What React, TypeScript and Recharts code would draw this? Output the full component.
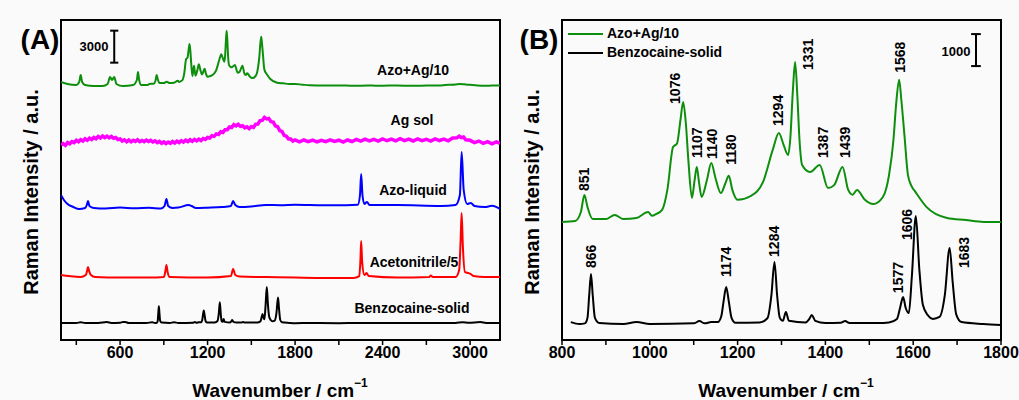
import React from "react";
import { ComposedChart, Line, XAxis, YAxis, ReferenceArea, ReferenceLine, ReferenceDot } from "recharts";

type Pt = [number, number];

// spectra, counts above each trace's own baseline
const azoAg: Pt[] = [
  [195, 190], [240, 0], [300, -90], [320, 190], [330, 840], [340, 190], [360, -90], [420, -190], [480, -190],
  [515, 0], [531, 650], [545, 375], [560, 650], [575, 0], [620, -190], [690, -90], [715, 375], [723, 1125],
  [731, 375], [745, -90], [790, -90], [800, 0], [830, 30], [843, 310], [851, 840], [858, 470], [870, 90],
  [900, 90], [920, 220], [940, 90], [970, 125], [996, 310], [1005, 190], [1015, 250], [1028, 375], [1040, 1000],
  [1053, 2340], [1062, 2450], [1070, 3200], [1076, 3750], [1082, 3100], [1088, 1900], [1096, 750], [1102, 1300],
  [1107, 1720], [1112, 1250], [1118, 780], [1130, 1300], [1140, 1840], [1150, 1350], [1162, 900], [1172, 1200],
  [1180, 1440], [1188, 1000], [1200, 690], [1230, 810], [1258, 1250], [1280, 2250], [1294, 2780], [1305, 2400],
  [1315, 2090], [1320, 2600], [1326, 4125], [1331, 5000], [1336, 3970], [1341, 2560], [1347, 1780], [1365, 1560],
  [1387, 1780], [1406, 1060], [1420, 1150], [1439, 1720], [1452, 1000], [1462, 850], [1472, 1000], [1490, 690],
  [1509, 560], [1531, 780], [1545, 1470], [1555, 2560], [1561, 3660], [1568, 4440], [1573, 3810], [1580, 2720],
  [1588, 1470], [1596, 1125], [1605, 940], [1630, 470], [1677, 125], [1720, 60], [1760, 0], [1800, 0],
  [1850, -60], [1900, -120], [2000, -150], [2100, -130], [2200, -170], [2300, -150], [2400, -160], [2500, -140],
  [2600, -170], [2700, -150], [2800, -130], [2850, -80], [2900, -40], [2930, 0], [2960, -30], [3000, -80],
  [3050, -140], [3100, -170], [3150, -150], [3205, -140],
];

const agSol: Pt[] = [
  [195, -190], [210, -60], [225, -220], [240, 40], [255, -80], [270, 130], [285, 40], [300, 250], [315, 110],
  [330, 300], [345, 180], [360, 390], [375, 260], [390, 450], [405, 330], [420, 520], [435, 400], [450, 610],
  [465, 470], [480, 650], [495, 500], [510, 640], [525, 480], [540, 620], [555, 450], [570, 510], [585, 330],
  [600, 380], [615, 180], [630, 300], [645, 120], [660, 280], [675, 110], [690, 260], [705, 150], [720, 300],
  [735, 120], [750, 240], [765, 130], [780, 280], [795, 150], [810, 250], [825, 90], [840, 200], [855, 40],
  [870, 150], [885, -30], [900, 100], [915, -60], [930, 90], [945, -40], [960, 140], [975, 0], [990, 170],
  [1005, 40], [1020, 220], [1035, 80], [1050, 260], [1065, 130], [1080, 300], [1095, 160], [1110, 340],
  [1125, 200], [1140, 360], [1155, 230], [1170, 420], [1185, 330], [1200, 520], [1215, 470], [1230, 680],
  [1245, 620], [1260, 850], [1275, 800], [1290, 1050], [1305, 990], [1320, 1250], [1335, 1250], [1350, 1500],
  [1365, 1450], [1380, 1720], [1395, 1600], [1410, 1750], [1425, 1560], [1440, 1620], [1455, 1420], [1470, 1520],
  [1485, 1340], [1500, 1540], [1515, 1470], [1530, 1760], [1545, 1780], [1560, 2100], [1575, 2120], [1590, 2400],
  [1605, 2260], [1620, 2300], [1635, 2000], [1650, 1960], [1665, 1600], [1680, 1520], [1695, 1150], [1710, 1080],
  [1725, 720], [1740, 640], [1755, 380], [1770, 380], [1785, 180], [1800, 280], [1830, 110], [1860, 280],
  [1890, 120], [1920, 270], [1950, 100], [1980, 250], [2010, 130], [2040, 300], [2070, 150], [2100, 260],
  [2130, 90], [2160, 280], [2190, 140], [2220, 330], [2250, 170], [2280, 360], [2310, 200], [2340, 340],
  [2370, 180], [2400, 380], [2430, 210], [2460, 360], [2490, 200], [2520, 400], [2550, 230], [2580, 370],
  [2610, 190], [2640, 390], [2670, 220], [2700, 350], [2730, 170], [2760, 380], [2790, 230], [2820, 360],
  [2850, 200], [2880, 460], [2910, 480], [2925, 640], [2940, 500], [2955, 560], [2970, 300], [3000, 250],
  [3030, 40], [3060, 180], [3090, -40], [3120, 120], [3150, -80], [3180, 100], [3205, -30],
];

const azoLiquid: Pt[] = [
  [195, 1220], [215, 750], [240, 375], [280, 90], [320, -90], [360, 0], [372, 280], [380, 650], [390, 190],
  [420, 0], [500, -50], [600, 40], [700, -30], [800, 20], [880, -50], [905, 190], [918, 840], [930, 190],
  [960, 0], [1000, 40], [1070, 280], [1090, 190], [1120, 0], [1200, 30], [1300, 90], [1360, 190], [1375, 650],
  [1390, 280], [1420, 90], [1500, 140], [1600, 280], [1700, 260], [1800, 300], [2000, 250], [2150, 260],
  [2230, 300], [2245, 1220], [2253, 3190], [2262, 1220], [2275, 375], [2293, 560], [2310, 280], [2500, 280],
  [2800, 190], [2900, 280], [2930, 1220], [2942, 5250], [2956, 1690], [2980, 375], [3005, 470], [3030, 190],
  [3100, 100], [3150, 200], [3205, -90],
];

const acetonitrile: Pt[] = [
  [195, 190], [250, 90], [330, 0], [365, 190], [375, 660], [380, 940], [388, 560], [400, 190], [430, 0],
  [600, -50], [800, -50], [900, 0], [912, 660], [918, 1125], [926, 470], [940, 0], [1200, -50], [1360, 90],
  [1375, 750], [1390, 190], [1420, 50], [1600, 0], [1800, -50], [2000, -90], [2200, -90], [2240, 90],
  [2248, 1600], [2253, 3375], [2260, 1400], [2275, 190], [2290, 375], [2305, 90], [2500, -50], [2720, 0],
  [2730, 140], [2745, 0], [2900, 0], [2925, 660], [2935, 3470], [2942, 6000], [2950, 3000], [2965, 470],
  [2990, 375], [3005, 280], [3025, 90], [3100, 0], [3205, 0],
];

const benzocaine: Pt[] = [
  [195, 0], [300, 0], [330, 60], [360, 0], [450, 0], [510, 80], [540, 0], [600, 20], [620, 90], [635, 90],
  [660, 0], [780, 0], [820, 60], [840, 0], [852, 20], [858, 190], [862, 900], [866, 1560], [870, 900],
  [875, 190], [885, 30], [940, 0], [970, 60], [1000, 0], [1100, 20], [1113, 90], [1125, 20], [1140, 60],
  [1155, 60], [1163, 250], [1168, 700], [1174, 1156], [1180, 700], [1186, 200], [1195, 40], [1250, 50],
  [1268, 180], [1277, 900], [1284, 1940], [1290, 900], [1296, 200], [1303, 100], [1310, 375], [1317, 100],
  [1355, 50], [1363, 150], [1369, 280], [1377, 100], [1400, 30], [1435, 40], [1445, 90], [1455, 30],
  [1520, 30], [1545, 50], [1563, 160], [1570, 500], [1577, 840], [1583, 500], [1590, 340], [1597, 1500],
  [1606, 3375], [1614, 1700], [1622, 600], [1633, 280], [1645, 160], [1660, 220], [1672, 900], [1683, 2375],
  [1690, 1300], [1698, 300], [1710, 60], [1760, 0], [1800, -30], [1900, 0], [2100, -20], [2400, 0],
  [2700, -10], [2900, 0], [2950, 60], [2990, 20], [3070, 80], [3110, 0], [3205, 0],
];

const ticksA = [300, 600, 900, 1200, 1500, 1800, 2100, 2400, 2700, 3000];
const ticksB = [800, 900, 1000, 1100, 1200, 1300, 1400, 1500, 1600, 1700, 1800];
const peaksAzo = [851, 1076, 1107, 1140, 1180, 1294, 1331, 1387, 1439, 1568];
const peaksBenz = [866, 1174, 1284, 1577, 1606, 1683];

const FONT = '"Liberation Sans", Arial, sans-serif';
const GREEN = "#0d8f0d";

// stacking offsets (counts) in each panel
const stackA = [
  { name: "Azo+Ag/10", data: azoAg, color: GREEN, offset: 24000, width: 2, curve: "monotone" },
  { name: "Ag sol", data: agSol, color: "#ff00ff", offset: 18470, width: 3.5, curve: "linear" },
  { name: "Azo-liquid", data: azoLiquid, color: "#0000ff", offset: 12375, width: 2, curve: "monotone" },
  { name: "Acetonitrile/5", data: acetonitrile, color: "#ff0000", offset: 5900, width: 2, curve: "monotone" },
  { name: "Benzocaine-solid", data: benzocaine, color: "#000000", offset: 1600, width: 2, curve: "monotone" },
];
const OFF_B_AZO = 3690;
const OFF_B_BENZ = 500;

// label nudges: dx (px), gap above apex (px)
const nudge: Record<number, [number, number]> = {
  851: [0, 4], 1076: [-8, -2], 1107: [0, 9], 1140: [1, 4], 1180: [2, 11], 1294: [-1, 7], 1331: [13, -8],
  1387: [3, 7], 1439: [2, 9], 1568: [1, 7], 866: [0, 6], 1174: [0, 10], 1284: [0, 5], 1577: [-5, 4],
  1606: [-9, -24], 1683: [14, -20],
};

const shift = (d: Pt[], off: number, lo = -Infinity, hi = Infinity) =>
  d.filter(([x]) => x >= lo && x <= hi).map(([x, v]) => ({ x, y: v + off }));
const at = (d: Pt[], x: number) => (d.find((p) => p[0] === x) || [x, 0])[1];

const tickStyle = { fill: "#000", fontSize: 16, fontWeight: "bold", fontFamily: FONT };

function Txt({ x, y, children, size = 14, rotate = false }: any) {
  return (
    <div
      style={{
        position: "absolute", left: x, top: y, fontSize: size, fontWeight: "bold", whiteSpace: "nowrap",
        lineHeight: 1, transform: `translate(-50%,-50%)${rotate ? " rotate(-90deg)" : ""}`,
      }}
    >
      {children}
    </div>
  );
}

const peakShape = (label: number) => (p: any) => {
  const [dx, gap] = nudge[label] || [0, 5];
  const x = p.cx + dx;
  const y = p.cy - gap;
  return (
    <text x={x} y={y} transform={`rotate(-90 ${x} ${y})`} fontSize={14} fontWeight="bold" fontFamily={FONT}
      dominantBaseline="central" textAnchor="start" fill="#000">
      {label}
    </text>
  );
};

function PanelA() {
  return (
    <ComposedChart width={520} height={400} margin={{ top: 20, right: 20, bottom: 30, left: 61 }}>
      <XAxis type="number" dataKey="x" domain={[195, 3205]} ticks={ticksA} allowDataOverflow
        tickFormatter={(v: number) => (v % 600 === 0 ? String(v) : "")} tick={tickStyle}
        axisLine={{ stroke: "#000", strokeWidth: 2 }} tickLine={{ stroke: "#000", strokeWidth: 1.5 }}
        tickSize={5} height={30} />
      <YAxis type="number" domain={[0, 30000]} hide allowDataOverflow />
      <ReferenceArea x1={195} x2={3205} y1={0} y2={30000} fill="none" stroke="#000" strokeWidth={2} ifOverflow="visible" />
      {stackA.map((s) => (
        <Line key={s.name} data={shift(s.data, s.offset)} dataKey="y" type={s.curve as any} stroke={s.color}
          strokeWidth={s.width} dot={false} isAnimationActive={false} />
      ))}
      <ReferenceLine segment={[{ x: 560, y: 26000 }, { x: 560, y: 29000 }]} stroke="#000" strokeWidth={2} />
      <ReferenceLine segment={[{ x: 532, y: 26000 }, { x: 588, y: 26000 }]} stroke="#000" strokeWidth={2} />
      <ReferenceLine segment={[{ x: 532, y: 29000 }, { x: 588, y: 29000 }]} stroke="#000" strokeWidth={2} />
    </ComposedChart>
  );
}

function PanelB() {
  return (
    <ComposedChart width={519} height={400} margin={{ top: 20, right: 18, bottom: 30, left: 62 }}>
      <XAxis type="number" dataKey="x" domain={[800, 1800]} ticks={ticksB} allowDataOverflow
        tickFormatter={(v: number) => (v % 200 === 0 ? String(v) : "")} tick={tickStyle}
        axisLine={{ stroke: "#000", strokeWidth: 2 }} tickLine={{ stroke: "#000", strokeWidth: 1.5 }}
        tickSize={5} height={30} />
      <YAxis type="number" domain={[0, 10000]} hide allowDataOverflow />
      <ReferenceArea x1={800} x2={1800} y1={0} y2={10000} fill="none" stroke="#000" strokeWidth={2} ifOverflow="visible" />
      <Line data={shift(azoAg, OFF_B_AZO, 800, 1800)} dataKey="y" type="monotone" stroke={GREEN} strokeWidth={2}
        dot={false} isAnimationActive={false} />
      <Line data={shift(benzocaine, OFF_B_BENZ, 800, 1800)} dataKey="y" type="monotone" stroke="#000" strokeWidth={2}
        dot={false} isAnimationActive={false} />
      {peaksAzo.map((p) => (
        <ReferenceDot key={"a" + p} x={p} y={at(azoAg, p) + OFF_B_AZO} r={0} shape={peakShape(p)} />
      ))}
      {peaksBenz.map((p) => (
        <ReferenceDot key={"b" + p} x={p} y={at(benzocaine, p) + OFF_B_BENZ} r={0} shape={peakShape(p)} />
      ))}
      <ReferenceLine segment={[{ x: 1743, y: 8560 }, { x: 1743, y: 9560 }]} stroke="#000" strokeWidth={2} />
      <ReferenceLine segment={[{ x: 1732, y: 8560 }, { x: 1754, y: 8560 }]} stroke="#000" strokeWidth={2} />
      <ReferenceLine segment={[{ x: 1732, y: 9560 }, { x: 1754, y: 9560 }]} stroke="#000" strokeWidth={2} />
    </ComposedChart>
  );
}

export default function App() {
  const xTitle = (
    <span>Wavenumber / cm<sup style={{ fontSize: 12, verticalAlign: "top", position: "relative", top: -4 }}>−1</sup></span>
  );
  return (
    <div style={{ position: "absolute", left: 0, top: 0, width: 1019, height: 400, background: "#fafafa", fontFamily: FONT, color: "#000" }}>
      <div style={{ position: "absolute", left: 0, top: 0 }}><PanelA /></div>
      <div style={{ position: "absolute", left: 500, top: 0 }}><PanelB /></div>

      <Txt x={40} y={40} size={28}>(A)</Txt>
      <Txt x={539} y={40} size={28}>(B)</Txt>
      <Txt x={31} y={192} size={20} rotate>Raman Intensity / a.u.</Txt>
      <Txt x={532} y={192} size={20} rotate>Raman Intensity / a.u.</Txt>
      <Txt x={280} y={390} size={19}>{xTitle}</Txt>
      <Txt x={786} y={390} size={19}>{xTitle}</Txt>

      <Txt x={94} y={46} size={13}>3000</Txt>
      <Txt x={956} y={51} size={13}>1000</Txt>

      <Txt x={413} y={70}>Azo+Ag/10</Txt>
      <Txt x={412} y={120}>Ag sol</Txt>
      <Txt x={413} y={190}>Azo-liquid</Txt>
      <Txt x={414} y={262}>Acetonitrile/5</Txt>
      <Txt x={412} y={308}>Benzocaine-solid</Txt>

      <div style={{ position: "absolute", left: 568, top: 33, width: 35, height: 2, background: GREEN }} />
      <div style={{ position: "absolute", left: 607, top: 26, fontSize: 14, fontWeight: "bold", lineHeight: 1 }}>Azo+Ag/10</div>
      <div style={{ position: "absolute", left: 568, top: 52, width: 35, height: 2, background: "#000" }} />
      <div style={{ position: "absolute", left: 607, top: 45, fontSize: 14, fontWeight: "bold", lineHeight: 1 }}>Benzocaine-solid</div>
    </div>
  );
}
